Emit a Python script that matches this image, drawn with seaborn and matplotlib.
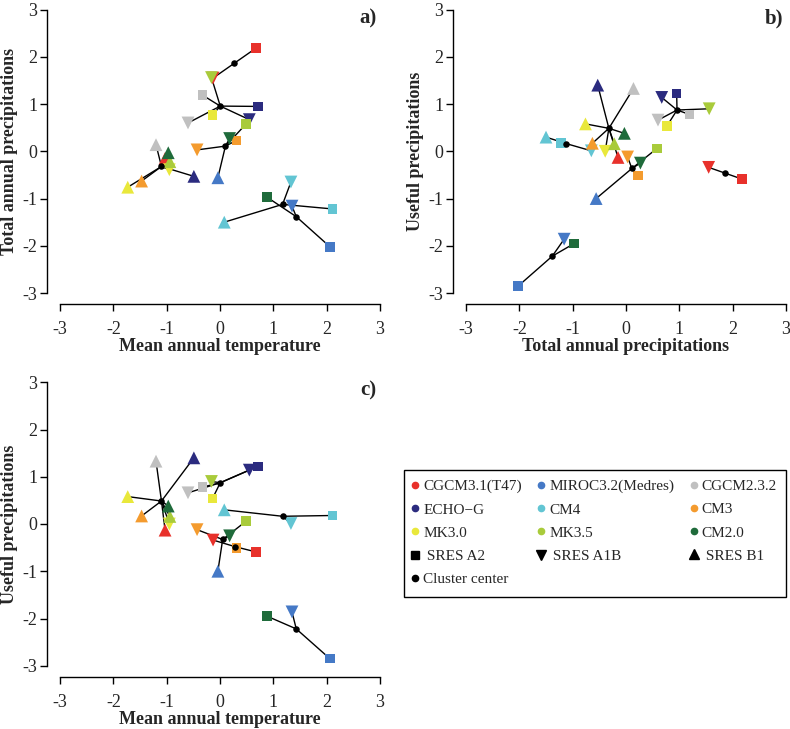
import numpy as np
import pandas as pd
import matplotlib
matplotlib.use("Agg")
import matplotlib.pyplot as plt
import seaborn as sns
from matplotlib.lines import Line2D
from matplotlib.patches import Rectangle

# ---------------- data ----------------
models = ["CGCM3.1(T47)", "MIROC3.2(Medres)", "CGCM2.3.2", "ECHO\u2212G", "CM4",
          "CM3", "MK3.0", "MK3.5", "CM2.0"]
scenarios = ["SRES A2", "SRES A1B", "SRES B1"]
model_colors = ["#E8312B", "#4579C6", "#C0C0C0", "#2B2B7F", "#62C5D3",
                "#F49B2E", "#E9E83B", "#A9CB3B", "#1F6B3B"]

# values per model, in scenario order A2, A1B, B1
temperature = [0.67, -0.13, -1.03,   2.06, 1.35, -0.04,   -0.33, -0.60, -1.20,
               0.71, 0.55, -0.49,    2.11, 1.33, 0.08,     0.31, -0.43, -1.47,
               -0.14, -0.95, -1.73,  0.49, -0.16, -0.94,   0.88, 0.18, -0.97]
total_precip = [2.18, 1.55, -0.15,   -2.02, -1.16, -0.56,  1.19, 0.60, 0.14,
                0.95, 0.67, -0.53,   -1.22, -0.65, -1.50,  0.23, 0.03, -0.63,
                0.77, -0.39, -0.76,  0.58, 1.56, -0.22,    -0.97, 0.27, -0.03]
useful_precip = [-0.59, -0.34, -0.13, -2.85, -1.86, -1.00, 0.78, 0.66, 1.33,
                 1.22, 1.14, 1.40,    0.18, 0.01, 0.30,    -0.51, -0.12, 0.17,
                 0.54, 0.00, 0.58,    0.06, 0.90, 0.16,    -1.95, -0.25, 0.38]

# cluster membership in each panel
cluster_a = [1, 1, 4,  6, 6, 3,  2, 2, 4,  2, 2, 4,  5, 5, 5,  3, 3, 4,  2, 4, 4,  3, 2, 4,  6, 3, 4]
cluster_b = [5, 5, 1,  6, 6, 3,  4, 4, 1,  4, 4, 1,  2, 2, 2,  3, 3, 1,  4, 1, 1,  3, 4, 1,  6, 3, 1]
cluster_c = [5, 5, 1,  6, 6, 4,  2, 2, 1,  2, 2, 1,  3, 3, 3,  5, 4, 1,  2, 1, 1,  4, 2, 1,  6, 4, 1]

df = pd.DataFrame({
    "model": np.repeat(models, 3),
    "scenario": scenarios * len(models),
    "temp": temperature,
    "total": total_precip,
    "useful": useful_precip,
    "ca": cluster_a, "cb": cluster_b, "cc": cluster_c,
})

# ---------------- style ----------------
sns.set_style("ticks")
plt.rcParams["font.family"] = ["Liberation Serif", "DejaVu Serif"]
plt.rcParams["axes.unicode_minus"] = False

palette = dict(zip(models, model_colors))
markers = {"SRES A2": "s", "SRES A1B": "v", "SRES B1": "^"}
sizes = {"SRES A2": 48, "SRES A1B": 85, "SRES B1": 85}

W, H = 790, 729
fig = plt.figure(figsize=(W / 100, H / 100), dpi=100)

unit_x, unit_y = 53.33, 47.25
lim = 3.24


def make_axes(x0_px, y0_px):
    # x0_px, y0_px: pixel location of data (0, 0)
    left = x0_px - lim * unit_x
    bottom = y0_px + lim * unit_y
    w = 2 * lim * unit_x
    h = 2 * lim * unit_y
    return fig.add_axes([left / W, 1 - bottom / H, w / W, h / H])


panels = [
    (make_axes(220, 151.3), "temp", "total", "ca", "Mean annual temperature", "Total annual precipitations", "a)"),
    (make_axes(626, 151.3), "total", "useful", "cb", "Total annual precipitations", "Useful precipitations", "b)"),
    (make_axes(220, 524.0), "temp", "useful", "cc", "Mean annual temperature", "Useful precipitations", "c)"),
]

ticks = [-3, -2, -1, 0, 1, 2, 3]
for ax, xc, yc, cl, xl, yl, tag in panels:
    centers = df.groupby(cl)[[xc, yc]].mean()
    for _, row in df.iterrows():
        c = centers.loc[row[cl]]
        ax.plot([c[xc], row[xc]], [c[yc], row[yc]], color="black", lw=1.0, zorder=1)
    sns.scatterplot(data=df, x=xc, y=yc, hue="model", style="scenario", size="scenario",
                    palette=palette, markers=markers, sizes=sizes, linewidth=0,
                    legend=False, ax=ax, zorder=2)
    sns.scatterplot(data=centers, x=xc, y=yc, color="black", s=22, linewidth=0,
                    legend=False, ax=ax, zorder=3)
    ax.set_xlim(-lim, lim)
    ax.set_ylim(-lim, lim)
    ax.set_xticks(ticks)
    ax.set_yticks(ticks)
    ax.set_xticklabels([str(t) for t in ticks])
    ax.set_yticklabels([str(t) for t in ticks])
    sns.despine(ax=ax)
    ax.spines["left"].set_bounds(-3, 3)
    ax.spines["bottom"].set_bounds(-3, 3)
    for s in ("left", "bottom"):
        ax.spines[s].set_linewidth(1.0)
        ax.spines[s].set_color("black")
    ax.tick_params(axis="both", length=5, width=1.0, color="black", labelsize=13)
    ax.tick_params(axis="x", pad=7)
    ax.tick_params(axis="y", pad=2)
    ax.set_xlabel(xl, fontsize=13, fontweight="bold", labelpad=0)
    ax.set_ylabel(yl, fontsize=13, fontweight="bold", labelpad=3)
    ax.text(2.94, 2.82, tag, ha="right", va="center", fontsize=15, fontweight="bold")
    ax.set_facecolor("white")

# ---------------- legend ----------------
def dot(color):
    return Line2D([], [], marker="o", color=color, ls="none", markersize=4.5)

col1 = [(models[0], dot(model_colors[0])), (models[3], dot(model_colors[3])),
        (models[6], dot(model_colors[6])),
        (" " + scenarios[0], Line2D([], [], marker="s", color="black", ls="none", markersize=5.5)),
        ("Cluster center", dot("black"))]
col2 = [(models[1], dot(model_colors[1])), (models[4], dot(model_colors[4])),
        (models[7], dot(model_colors[7])),
        (" " + scenarios[1], Line2D([], [], marker="v", color="black", ls="none", markersize=7))]
col3 = [(models[2], dot(model_colors[2])), (models[5], dot(model_colors[5])),
        (models[8], dot(model_colors[8])),
        (" " + scenarios[2], Line2D([], [], marker="^", color="black", ls="none", markersize=7))]
entries = col1 + col2 + col3

# frame of the legend box
bx0, by0, bx1, by1 = 404, 470, 786, 597
fig.add_artist(Rectangle((bx0 / W, 1 - by1 / H), (bx1 - bx0) / W, (by1 - by0) / H,
                         transform=fig.transFigure, fill=False, ec="black", lw=1.0))

cx0, cx1, cy0 = 411.2, 777.0, 479.5
leg = fig.legend([e[1] for e in entries], [e[0] for e in entries], ncol=3,
                 loc="upper left",
                 bbox_to_anchor=(cx0 / W, 1 - cy0 / H, (cx1 - cx0) / W, 0.0),
                 mode="expand", borderaxespad=0, fontsize=11, frameon=False,
                 handlelength=0.5, handletextpad=0.28, labelspacing=0.62,
                 borderpad=0.0, columnspacing=1.0)

fig.savefig("out.png", dpi=100, facecolor="white")
